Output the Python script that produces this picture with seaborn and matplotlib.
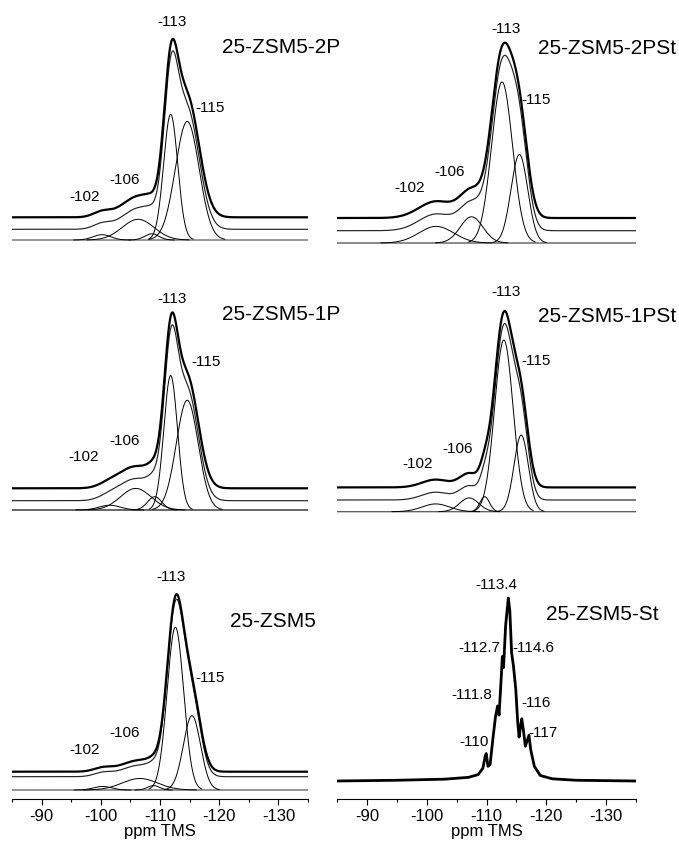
import numpy as np
import pandas as pd
import matplotlib
matplotlib.use("Agg")
import matplotlib.pyplot as plt
import seaborn as sns

# ------------------------------------------------------------------ data
# Gaussian deconvolution components (ppm, rel. height, sigma ppm)
zsm5_2p_center = [-100.2, -106.3, -108.6, -111.8, -114.6]
zsm5_2p_height = [0.03, 0.117, 0.035, 0.71, 0.67]
zsm5_2p_width = [1.5, 2.7, 1.2, 1.19, 2.0]

zsm5_2pst_center = [-101.6, -107.5, -112.6, -115.5]
zsm5_2pst_height = [0.094, 0.148, 0.91, 0.50]
zsm5_2pst_width = [2.9, 1.9, 1.75, 1.4]

zsm5_1p_center = [-101.5, -105.9, -109.1, -111.8, -114.6]
zsm5_1p_height = [0.027, 0.122, 0.075, 0.76, 0.62]
zsm5_1p_width = [1.8, 2.6, 1.2, 1.15, 1.85]

zsm5_1pst_center = [-101.5, -107.1, -109.7, -112.9, -115.8]
zsm5_1pst_height = [0.044, 0.078, 0.085, 0.97, 0.433]
zsm5_1pst_width = [2.3, 1.6, 0.8, 1.55, 1.2]

zsm5_center = [-100.3, -106.6, -108.9, -112.6, -115.4]
zsm5_height = [0.02, 0.065, 0.025, 0.92, 0.42]
zsm5_width = [1.5, 3.0, 1.0, 1.4, 1.45]

# 25-ZSM5-St spectrum, points (ppm, relative intensity)
st_ppm = [-85, -95, -103, -107, -108.6, -109.4, -109.75, -109.95, -110.25, -110.6,
          -111.1, -111.5, -111.85, -112.1, -112.35, -112.65, -112.85, -113.2, -113.65,
          -113.9, -114.2, -114.5, -114.9, -115.2, -115.45, -115.7, -115.9, -116.2,
          -116.5, -116.7, -117.1, -117.4, -118.0, -119.0, -121.0, -125.0, -135.0]
st_intensity = [0.0, 0.004, 0.01, 0.02, 0.035, 0.07, 0.13, 0.15, 0.08, 0.09,
                0.24, 0.35, 0.41, 0.36, 0.50, 0.68, 0.62, 0.85, 1.0,
                0.93, 0.70, 0.63, 0.50, 0.33, 0.24, 0.30, 0.34, 0.27,
                0.19, 0.21, 0.25, 0.17, 0.08, 0.03, 0.012, 0.004, 0.0]

panel_titles = ["25-ZSM5-2P", "25-ZSM5-2PSt", "25-ZSM5-1P", "25-ZSM5-1PSt", "25-ZSM5", "25-ZSM5-St"]
fit_labels = ["-113", "-115", "-106", "-102"]
st_labels = ["-113.4", "-112.7", "-114.6", "-111.8", "-116", "-110", "-117"]
x_ticks = [-90, -100, -110, -120, -130]
x_label = "ppm TMS"

# ------------------------------------------------------------------ style
sns.set_style("ticks")
plt.rcParams["font.family"] = ["Liberation Sans", "DejaVu Sans"]
plt.rcParams["axes.unicode_minus"] = False
plt.rcParams["text.color"] = "black"
plt.rcParams["axes.labelcolor"] = "black"
plt.rcParams["xtick.color"] = "black"
plt.rcParams["axes.edgecolor"] = "black"

W, H = 679, 842
fig = plt.figure(figsize=(W / 100, H / 100), dpi=100)
PX = 177.0  # pixels per unit intensity
grid = np.linspace(-85, -135, 1501)


def gauss(x, c, h, w):
    return h * np.exp(-0.5 * ((x - c) / w) ** 2)


def make_axes(x0, x1, top, bot, base, scale=PX):
    ax = fig.add_axes([x0 / W, 1 - bot / H, (x1 - x0) / W, (bot - top) / H])
    ax.set_xlim(-85, -135)
    ax.set_ylim((base - bot) / scale, (base - top) / scale)
    return ax


def line(ax, x, y, color="black", lw=0.8):
    sns.lineplot(x=x, y=y, ax=ax, color=color, linewidth=lw,
                 estimator=None, sort=False, legend=False)


def draw_fit(ax, centers, heights, widths, sum_off, exp_off, base_color, base_lw):
    total = np.zeros_like(grid)
    for c, h, w in zip(centers, heights, widths):
        total += gauss(grid, c, h, w)
    line(ax, grid, np.zeros_like(grid), color=base_color, lw=base_lw)
    for c, h, w in zip(centers, heights, widths):
        m = np.abs(grid - c) <= 3.2 * w
        line(ax, grid[m], gauss(grid[m], c, h, w), color="black", lw=0.7)
    line(ax, grid, total + sum_off / PX, color="#222222", lw=0.85)
    line(ax, grid, total + exp_off / PX, color="black", lw=1.6)


def hide(ax):
    ax.axis("off")


def bottom_axis(ax):
    sns.despine(ax=ax, left=True, top=True, right=True)
    ax.set_yticks([])
    ax.set_xticks(x_ticks)
    ax.set_xticklabels([str(t) for t in x_ticks])
    ax.set_xticks(np.arange(-85, -136, -5), minor=True)
    ax.tick_params(axis="x", which="major", direction="out", length=4, width=0.8,
                   labelsize=12, pad=3, bottom=True, colors="black")
    ax.tick_params(axis="x", which="minor", direction="out", length=2.5, width=0.8,
                   bottom=True, colors="black")
    ax.spines["bottom"].set_linewidth(0.8)
    ax.spines["bottom"].set_color("black")
    ax.set_xlabel(x_label, fontsize=12, labelpad=0, color="black")
    ax.set_ylabel("")


def ftext(x, y, s, ha="center", size=11):
    fig.text(x / W, 1 - y / H, s, ha=ha, va="center", fontsize=size, color="black")


LX0, LX1 = 12, 308
RX0, RX1 = 337, 636

# row 1
ax = make_axes(LX0, LX1, 0, 262, 240)
draw_fit(ax, zsm5_2p_center, zsm5_2p_height, zsm5_2p_width, 10.7, 22.7, "#9a9a9a", 1.4)
hide(ax)
ax = make_axes(RX0, RX1, 0, 262, 243)
draw_fit(ax, zsm5_2pst_center, zsm5_2pst_height, zsm5_2pst_width, 12.3, 25.0, "#333333", 0.8)
hide(ax)
# row 2
ax = make_axes(LX0, LX1, 270, 540, 510)
draw_fit(ax, zsm5_1p_center, zsm5_1p_height, zsm5_1p_width, 9.3, 21.7, "#111111", 0.9)
hide(ax)
ax = make_axes(RX0, RX1, 270, 540, 511.7)
draw_fit(ax, zsm5_1pst_center, zsm5_1pst_height, zsm5_1pst_width, 11.7, 24.3, "#555555", 0.9)
hide(ax)
# row 3
ax = make_axes(LX0, LX1, 560, 799, 790)
draw_fit(ax, zsm5_center, zsm5_height, zsm5_width, 13.3, 18.3, "#777777", 1.1)
bottom_axis(ax)
ax = make_axes(RX0, RX1, 560, 799, 781, scale=183.0)
line(ax, np.array(st_ppm), np.array(st_intensity), color="black", lw=2.0)
bottom_axis(ax)

# ------------------------------------------------------------------ labels
# titles
ftext(221.7, 47.3, panel_titles[0], ha="left", size=15)
ftext(538, 48.3, panel_titles[1], ha="left", size=15)
ftext(221.7, 315, panel_titles[2], ha="left", size=15)
ftext(538, 316.7, panel_titles[3], ha="left", size=15)
ftext(230, 621.7, panel_titles[4], ha="left", size=15)
ftext(546.3, 615, panel_titles[5], ha="left", size=15)

fit_label_pos = [
    [(171.7, 21.7, "center"), (195, 108, "left"), (125, 180, "center"), (85, 197, "center")],
    [(505.7, 29.3, "center"), (521.7, 100, "left"), (449.7, 172.3, "center"), (410, 188.3, "center")],
    [(171.7, 299, "center"), (191.7, 361.7, "left"), (125, 441, "center"), (84, 456.7, "center")],
    [(505.7, 291.7, "center"), (521.7, 361, "left"), (457.3, 449.3, "center"), (417.3, 464.3, "center")],
    [(170.7, 576.7, "center"), (195, 678, "left"), (125, 733, "center"), (85, 750, "center")],
]
for pos in fit_label_pos:
    for lab, (x, y, ha) in zip(fit_labels, pos):
        ftext(x, y, lab, ha=ha)

st_label_pos = [(496.3, 585, "center"), (479, 648.3, "center"), (512.3, 648.3, "left"),
                (472.3, 695, "center"), (521.7, 702.7, "left"), (474, 741.7, "center"),
                (528.3, 733.3, "left")]
for lab, (x, y, ha) in zip(st_labels, st_label_pos):
    ftext(x, y, lab, ha=ha)

fig.savefig("out.png", dpi=100)
